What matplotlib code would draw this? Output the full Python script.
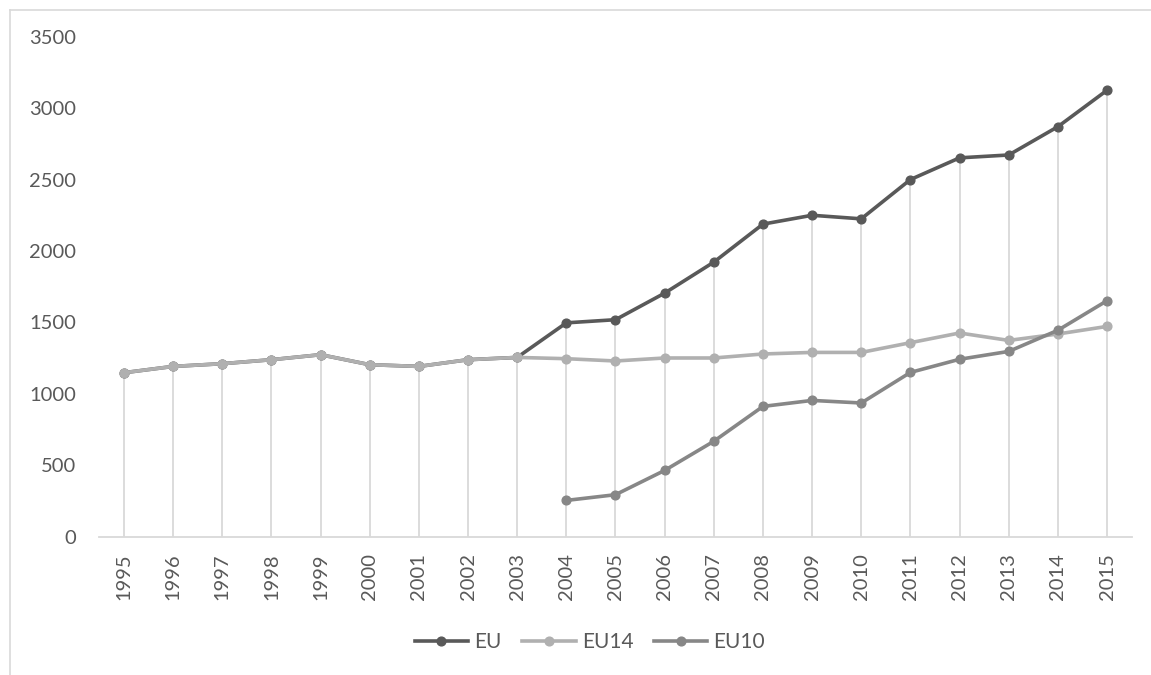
import numpy as np
import matplotlib
matplotlib.use("Agg")
import matplotlib.pyplot as plt
from matplotlib.lines import Line2D

plt.rcParams['font.family'] = ['Lato', 'DejaVu Sans']

# data
years = [str(y) for y in range(1995, 2016)]
eu = [1148, 1192, 1211, 1239, 1274, 1204, 1192, 1239, 1255,
      1497, 1519, 1705, 1922, 2188, 2250, 2225, 2500, 2652, 2672, 2870, 3125]
eu14 = [1148, 1192, 1211, 1239, 1274, 1204, 1192, 1239, 1255,
        1246, 1230, 1251, 1251, 1279, 1290, 1290, 1358, 1426, 1374, 1419, 1472]
eu10 = [np.nan] * 9 + [254, 294, 464, 668, 912, 954, 936, 1150, 1242, 1297, 1445, 1652]

W, H = 1151, 675
fig = plt.figure(figsize=(W / 100, H / 100), dpi=100)
ax = fig.add_axes([99.4 / W, 1 - 536.7 / H, (1131.6 - 99.4) / W, (536.7 - 36.7) / H])

x = np.arange(len(years))
txt = '#595959'
grid = '#d9d9d9'

ax.plot(x, eu, color='#595959', lw=2.6, marker='o', ms=6.3, label='EU', zorder=3)
ax.plot(x, eu14, color='#b0b0b0', lw=2.6, marker='o', ms=6.3, label='EU14', zorder=4)
ax.plot(x, eu10, color='#878787', lw=2.6, marker='o', ms=6.3, label='EU10', zorder=5)

# drop lines from the highest point down to the axis
top = np.nanmax(np.vstack([eu, eu14, eu10]), axis=0)
ax.vlines(x, 0, top, color=grid, lw=1.3, zorder=1)

ax.set_xlim(-0.5, len(years) - 0.5)
ax.set_ylim(0, 3500)
ax.set_yticks(range(0, 3501, 500))
ax.set_xticks(x)
ax.set_xticklabels(years, rotation=90)

for s in ['top', 'right', 'left']:
    ax.spines[s].set_visible(False)
ax.spines['bottom'].set_color(grid)
ax.spines['bottom'].set_linewidth(1.3)

ax.tick_params(axis='x', length=0, pad=12, labelsize=14.5, labelcolor=txt)
ax.tick_params(axis='y', length=0, pad=17, labelsize=14.5, labelcolor=txt)

fig.legend(loc='center', bbox_to_anchor=(590 / W, 1 - 642 / H), ncol=3, frameon=False,
           fontsize=15, labelcolor=txt, handlelength=2.55, handletextpad=0.3,
           columnspacing=1.0)

# chart area border (only left and top visible in the crop)
fig.add_artist(Line2D([9.5 / W, 9.5 / W], [0, 1 - 9.5 / H], color=grid, lw=1.2))
fig.add_artist(Line2D([9.5 / W, 1], [1 - 9.5 / H, 1 - 9.5 / H], color=grid, lw=1.2))

fig.savefig('out.png', dpi=100)
